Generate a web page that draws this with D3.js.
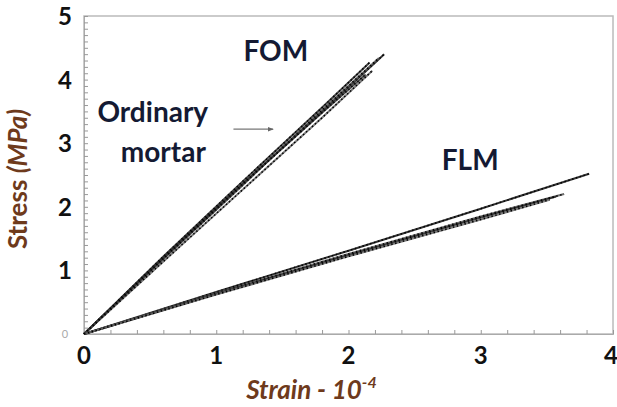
<!DOCTYPE html>
<html lang="en">
<head>
    <meta charset="UTF-8" />
    <title>Stress - strain</title>
    <script src="https://d3js.org/d3.v7.min.js"></script>
    <style>
        body { margin: 0; background: #fff; font-family: Lato, "Open Sans", sans-serif; }
        svg { display: block; }
        .tick-label { font-weight: bold; font-size: 24px; fill: #111; }
        .axis-title { font-weight: bold; font-size: 26px; fill: #6e3a1c; }
        .note { font-weight: bold; font-size: 28px; fill: #141a33; }
    </style>
</head>
<body>
<div id="chart"></div>
<script>
    // tick labels
    const xTicks = [0, 1, 2, 3, 4];
    const yTicks = [1, 2, 3, 4, 5];

    // FOM specimens (strain 1e-4, stress MPa)
    const fomStrain = [
        [0, 0.6, 1.2, 1.8, 2.27],
        [0, 0.6, 1.2, 1.8, 2.23],
        [0, 0.6, 1.2, 1.8, 2.16],
        [0, 0.6, 1.2, 1.8, 2.18],
        [0, 0.6, 1.2, 1.8, 2.13]
    ];
    const fomStress = [
        [0, 1.20, 2.36, 3.50, 4.40],
        [0, 1.18, 2.34, 3.52, 4.34],
        [0, 1.22, 2.40, 3.56, 4.27],
        [0, 1.14, 2.27, 3.40, 4.14],
        [0, 1.19, 2.36, 3.48, 4.08]
    ];

    // FLM specimens
    const flmStrain = [
        [0, 1.0, 2.0, 3.0, 3.82],
        [0, 1.0, 2.0, 3.0, 3.63],
        [0, 1.0, 2.0, 3.0, 3.57],
        [0, 1.0, 2.0, 3.0, 3.52]
    ];
    const flmStress = [
        [0, 0.66, 1.31, 1.97, 2.52],
        [0, 0.64, 1.26, 1.85, 2.20],
        [0, 0.63, 1.24, 1.83, 2.16],
        [0, 0.62, 1.22, 1.80, 2.11]
    ];

    const W = 617, H = 407;
    const margin = { top: 16, right: 4, bottom: 73, left: 84 },
        width = W - margin.left - margin.right,
        height = H - margin.top - margin.bottom;

    const svg = d3.select("#chart").append("svg")
        .attr("width", W).attr("height", H);
    const g = svg.append("g")
        .attr("transform", `translate(${margin.left},${margin.top})`);

    const x = d3.scaleLinear().domain([0, 4]).range([0, width]);
    const y = d3.scaleLinear().domain([0, 5]).range([height, 0]);

    // frame
    g.append("rect")
        .attr("x", 0).attr("y", 0)
        .attr("width", width).attr("height", height)
        .attr("fill", "none").attr("stroke", "#bbb").attr("stroke-width", 1.5);

    // minor ticks
    g.append("g")
        .attr("transform", `translate(0,${height})`)
        .call(d3.axisBottom(x).tickValues(d3.range(0, 4.01, 0.2)).tickSize(-4).tickFormat(""))
        .call(a => a.select(".domain").attr("stroke", "#aaa"))
        .call(a => a.selectAll("line").attr("stroke", "#999"));
    g.append("g")
        .call(d3.axisLeft(y).tickValues(d3.range(0, 5.01, 0.1)).tickSize(-4).tickFormat(""))
        .call(a => a.select(".domain").attr("stroke", "#aaa"))
        .call(a => a.selectAll("line").attr("stroke", "#999"));

    // tick labels
    g.selectAll(".xl").data(xTicks).enter().append("text")
        .attr("class", "tick-label")
        .attr("x", d => x(d) - (d === 4 ? 2 : 0)).attr("y", height + 30)
        .attr("text-anchor", "middle")
        .text(d => d);
    g.selectAll(".yl").data(yTicks).enter().append("text")
        .attr("class", "tick-label")
        .attr("x", -19).attr("y", d => y(d) + 9)
        .attr("text-anchor", "middle")
        .text(d => d);
    g.append("text")
        .attr("x", -19).attr("y", y(0) + 4)
        .attr("text-anchor", "middle")
        .style("font-size", "11px").style("fill", "#aaa")
        .text("0");

    // axis titles
    g.append("text")
        .attr("class", "axis-title")
        .attr("transform", `translate(-57,${height / 2 + 4}) rotate(-90)`)
        .attr("text-anchor", "middle")
        .call(t => {
            t.append("tspan").text("Stress ");
            t.append("tspan").style("font-style", "italic").text("(MPa)");
        });
    g.append("text")
        .attr("class", "axis-title")
        .style("font-style", "italic")
        .attr("x", x(1.72)).attr("y", height + 65)
        .attr("text-anchor", "middle")
        .call(t => {
            t.append("tspan").text("Strain - 10");
            t.append("tspan").attr("dy", -11).style("font-size", "16px").text("-4");
        });

    // specimen curves
    const line = d3.line().x(d => x(d[0])).y(d => y(d[1]));
    const shades = ["#111", "#555", "#222", "#666", "#333"];

    function drawSet(strains, stresses) {
        strains.forEach((s, i) => {
            const pts = s.map((v, j) => [v, stresses[i][j]]);
            g.append("path")
                .datum(pts)
                .attr("d", line)
                .attr("fill", "none")
                .attr("stroke", shades[i % shades.length])
                .attr("stroke-width", 2)
                .attr("stroke-opacity", 0.85);
            g.append("path")
                .datum(pts)
                .attr("d", line)
                .attr("fill", "none")
                .attr("stroke", "#000")
                .attr("stroke-width", 1.5)
                .attr("stroke-dasharray", "1.5 2.5");
        });
    }
    drawSet(fomStrain, fomStress);
    drawSet(flmStrain, flmStress);

    // annotations
    g.append("text").attr("class", "note")
        .attr("x", x(1.45)).attr("y", y(4.3)).attr("text-anchor", "middle").text("FOM");
    g.append("text").attr("class", "note")
        .attr("x", x(0.52)).attr("y", y(3.33)).attr("text-anchor", "middle").text("Ordinary");
    g.append("text").attr("class", "note")
        .attr("x", x(0.6)).attr("y", y(2.7)).attr("text-anchor", "middle").text("mortar");
    g.append("text").attr("class", "note")
        .attr("x", x(2.92)).attr("y", y(2.58)).attr("text-anchor", "middle").text("FLM");

    svg.append("defs").append("marker")
        .attr("id", "ah").attr("viewBox", "0 0 10 10")
        .attr("refX", 9).attr("refY", 5)
        .attr("markerWidth", 5).attr("markerHeight", 5)
        .attr("orient", "auto")
        .append("path").attr("d", "M0,1 L10,5 L0,9 Z").attr("fill", "#666");
    g.append("line")
        .attr("x1", x(1.13)).attr("y1", y(3.22))
        .attr("x2", x(1.43)).attr("y2", y(3.22))
        .attr("stroke", "#777").attr("stroke-width", 1.2)
        .attr("marker-end", "url(#ah)");
</script>
</body>
</html>
